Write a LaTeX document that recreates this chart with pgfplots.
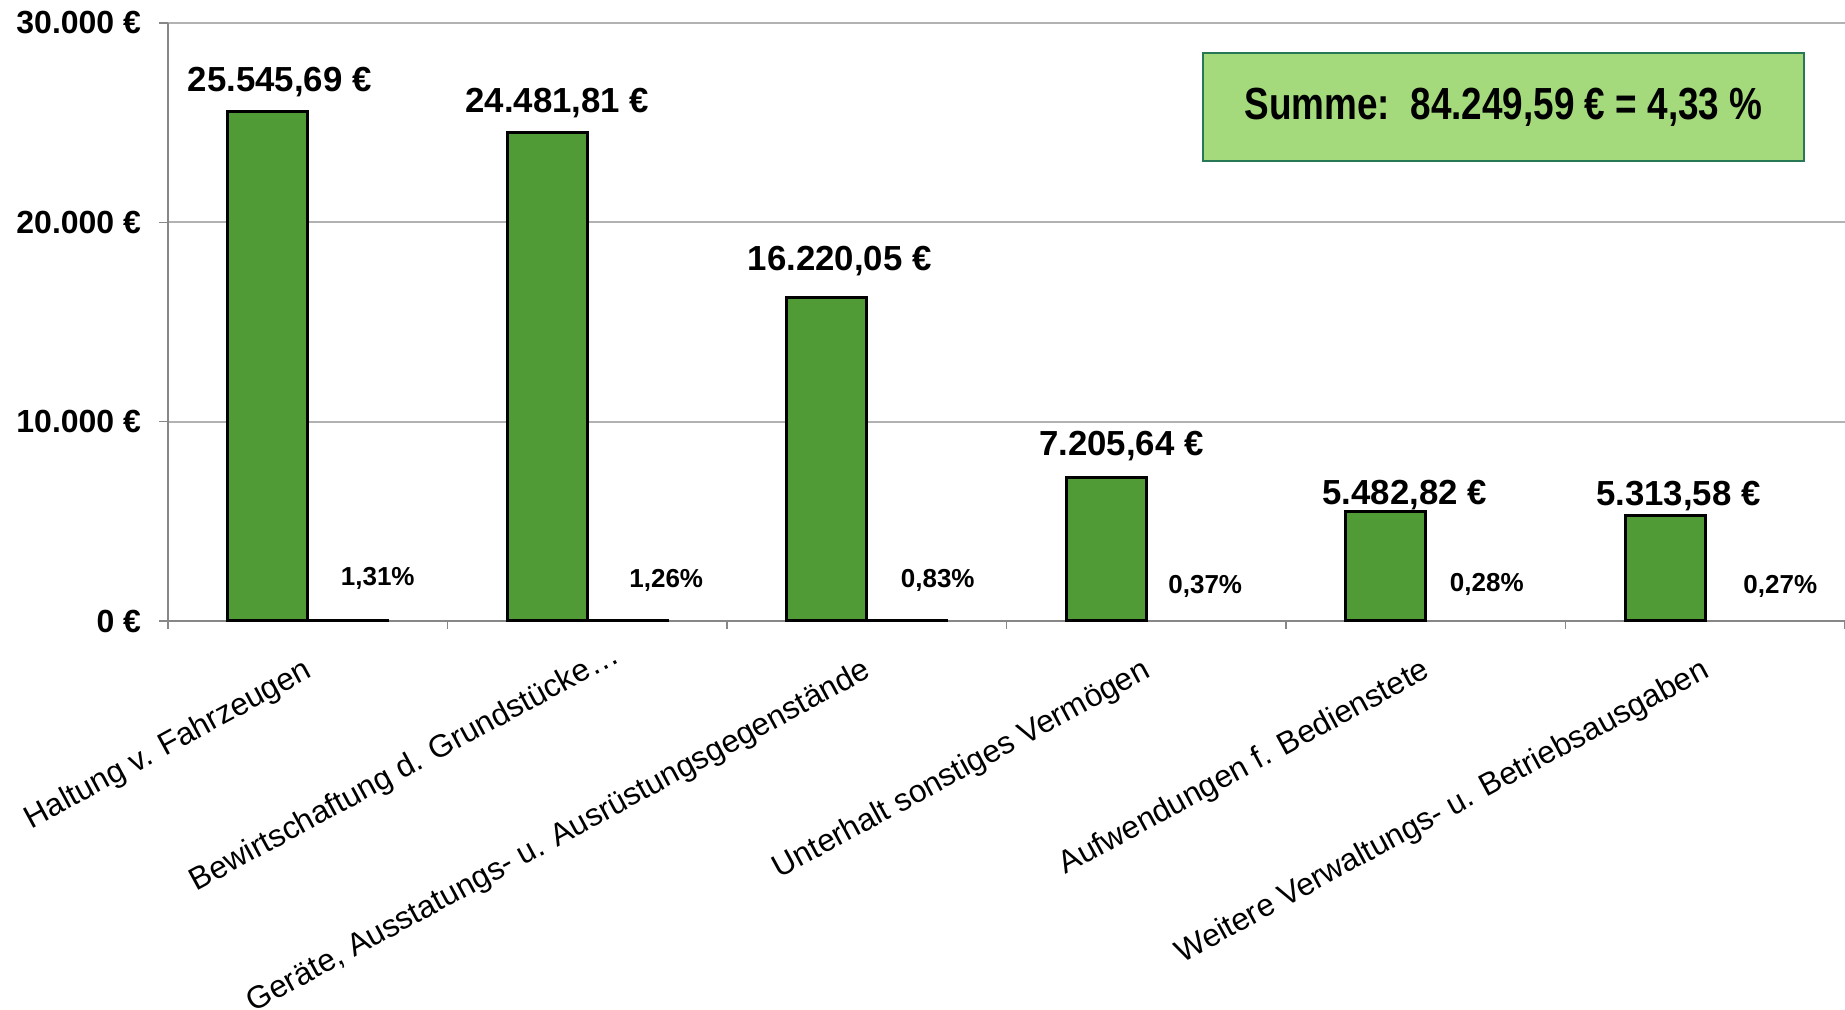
\documentclass[border=0pt]{standalone}
\usepackage{fontspec}
\setmainfont{Liberation Sans}
\usepackage{graphicx}
\usepackage{pgfplots}
\usepackage{pgfplotstable}
\pgfplotsset{compat=1.18}
\definecolor{bargreen}{RGB}{80,155,54}
\definecolor{boxgreen}{RGB}{164,217,124}
\definecolor{boxborder}{RGB}{40,120,85}
\definecolor{gridgray}{RGB}{178,178,178}
\definecolor{axisgray}{RGB}{135,135,135}

\pgfplotstableread{
x y label dx dy
0 25545.69 {25.545,69 €} -14 10
1 24481.81 {24.481,81 €} -15 10
2 16220.05 {16.220,05 €} -13.5 13.5
3 7205.64 {7.205,64 €} -12.5 11
4 5482.82 {5.482,82 €} -10.5 3.5
5 5313.58 {5.313,58 €} -13.5 5
}\valdata

\pgfplotstableread{
x y label dx dy
0 1.31 {1,31\%} 35 17.5
1 1.26 {1,26\%} 39.5 16.5
2 0.83 {0,83\%} 35.5 16.5
}\pctA

\pgfplotstableread{
x y label dx dy
3 0.37 {0,37\%} 29.5 13.5
4 0.28 {0,28\%} 30.5 14.5
5 0.27 {0,27\%} 37.5 13.5
}\pctB

\begin{document}
\begin{tikzpicture}
\useasboundingbox (0,0) rectangle (922.5pt,505pt);
\begin{axis}[
  at={(84pt,194.5pt)}, anchor=south west,
  width=838.5pt, height=299pt, scale only axis,
  xmin=-0.5, xmax=5.5, ymin=0, ymax=30000,
  scaled y ticks=false,
  axis x line*=bottom, axis y line*=left,
  axis line style={draw=axisgray, line width=1.2pt},
  ytick={0,10000,20000,30000},
  yticklabels={0 €, 10.000 €, 20.000 €, 30.000 €},
  yticklabel style={font=\fontsize{16}{19}\selectfont\bfseries, inner sep=0pt, xshift=-8.8pt},
  ymajorgrids, grid style={draw=gridgray, line width=0.9pt},
  xtick={0,1,2,3,4,5},
  xticklabels={Haltung v. Fahrzeugen, Bewirtschaftung d. Grundstücke…\hspace*{-16pt}\null, {Geräte, Ausstatungs- u. Ausrüstungsgegenstände}, Unterhalt sonstiges Vermögen, Aufwendungen f. Bedienstete, Weitere Verwaltungs- u. Betriebsausgaben},
  major x tick style={draw=none},
  minor xtick={-0.5,0.5,1.5,2.5,3.5,4.5,5.5},
  tick align=outside,
  major tick length=4.5pt, minor tick length=4pt,
  tick style={draw=axisgray, line width=0.8pt},
  xticklabel style={xshift=1pt, yshift=-19.5pt, rotate=28.5, anchor=east, inner sep=0pt, font=\fontsize{15.8}{19}\selectfont},
  clip=false,
]
\addplot[ybar, fill=bargreen, draw=black, line width=1.5pt, bar width=0.286, bar shift=-0.143,
  nodes near coords, point meta=explicit symbolic,
  visualization depends on={\thisrow{dx} \as \dx},
  visualization depends on={\thisrow{dy} \as \dy},
  every node near coord/.append style={anchor=base, inner sep=0pt, xshift=\dx pt, yshift=\dy pt, text=black, font=\fontsize{17.4}{21}\selectfont\bfseries}]
  table[x=x, y=y, meta=label] {\valdata};
\addplot[ybar, fill=none, draw=black, line width=1.5pt, bar width=0.286, bar shift=0.143,
  nodes near coords, point meta=explicit symbolic,
  visualization depends on={\thisrow{dx} \as \dx},
  visualization depends on={\thisrow{dy} \as \dy},
  every node near coord/.append style={anchor=base, inner sep=0pt, xshift=\dx pt, yshift=\dy pt, text=black, font=\fontsize{13}{16}\selectfont\bfseries}]
  table[x=x, y=y, meta=label] {\pctA};
\addplot[ybar, fill=none, draw=none, bar width=0.286, bar shift=0.143,
  nodes near coords, point meta=explicit symbolic,
  visualization depends on={\thisrow{dx} \as \dx},
  visualization depends on={\thisrow{dy} \as \dy},
  every node near coord/.append style={anchor=base, inner sep=0pt, xshift=\dx pt, yshift=\dy pt, text=black, font=\fontsize{13}{16}\selectfont\bfseries}]
  table[x=x, y=y, meta=label] {\pctB};
\node[fill=boxgreen, draw=boxborder, line width=0.8pt, minimum width=300.5pt, minimum height=54pt, inner sep=0pt]
  at (axis cs:4.278,25784) {\scalebox{0.82}[1]{\fontsize{22.5}{27}\selectfont\bfseries Summe:\ \ 84.249,59 € = 4,33 \%}};
\end{axis}
\end{tikzpicture}
\end{document}
